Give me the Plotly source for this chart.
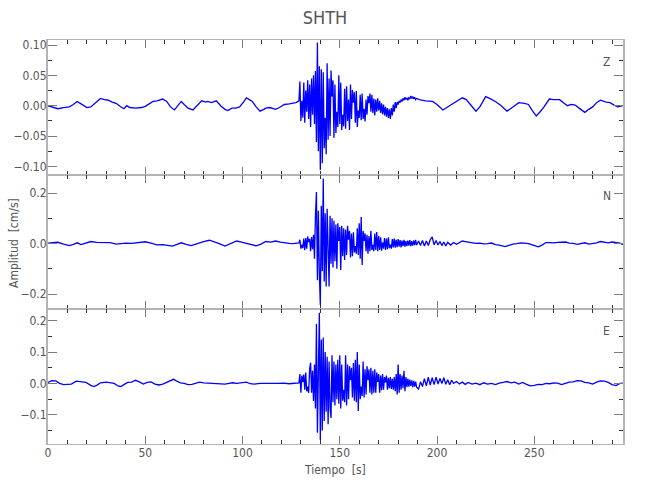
import numpy as np
import plotly.graph_objects as go
from plotly.subplots import make_subplots

# ---------------- data ----------------
components = ["Z", "N", "E"]
title = "SHTH"

burst_start = 129.5
burst_step = 0.5

# Z component
z_quiet_t = [0, 2, 5, 8, 11, 13, 15, 17, 20, 22, 24, 27, 29, 31, 33, 35, 37, 39, 40.5, 42, 45, 48, 50, 52, 54, 56, 59, 61, 63, 65,
             67, 68.5, 70, 72, 74.5, 76.5, 79, 81, 82, 84, 86.5, 89, 91, 92.5, 94.5, 96.5, 98.5, 100.5, 102, 103.5, 105, 107, 109,
             111, 112, 114, 117, 119, 121.5, 124, 126, 127.5, 129]
z_quiet_v = [0.000, -0.002, -0.005, -0.003, -0.002, 0.002, 0.007, 0.003, -0.003, -0.002, 0.004, 0.012, 0.010, 0.009, 0.006,
             0.004, -0.001, -0.005, 0.000, -0.003, -0.004, -0.003, -0.001, 0.003, 0.007, 0.008, 0.011, 0.007, -0.002, -0.007,
             0.001, 0.007, 0.002, -0.004, -0.007, 0.000, 0.008, 0.006, 0.007, 0.005, 0.008, -0.001, -0.006, -0.008, -0.004,
             -0.004, -0.002, 0.006, 0.013, 0.010, 0.007, -0.002, -0.009, -0.006, -0.004, -0.003, -0.006, -0.003, 0.002, 0.003,
             0.004, 0.005, 0.008]
z_burst_v = [0.040, -0.025, 0.008, -0.020, 0.038, -0.028, 0.025, -0.010, 0.042, -0.022,
             0.035, -0.035, 0.045, -0.015, 0.050, -0.030, 0.057, -0.060, 0.104, -0.075,
             0.065, -0.106, 0.060, -0.095, 0.055, -0.070, -0.020, -0.080, 0.070, -0.056,
             0.045, -0.050, 0.058, 0.015, 0.042, -0.053, 0.035, -0.045, -0.010, -0.035,
             0.050, -0.030, 0.038, -0.040, -0.015, -0.034, 0.028, -0.038, 0.032, -0.025,
             0.010, -0.040, 0.035, -0.022, 0.026, 0.005, 0.022, -0.028, 0.024, -0.035,
             -0.008, -0.020, 0.018, -0.024, 0.020, -0.022, -0.005, -0.026, 0.010, -0.015,
             0.016, 0.004, 0.020, -0.010, 0.018, -0.012, 0.012, -0.016, 0.010, -0.010,
             0.012, -0.008, 0.008, -0.012, 0.004, -0.014, 0.002, -0.016, -0.002, -0.018,
             -0.004, -0.020, -0.006, -0.022, -0.004, -0.016, 0.002, -0.010, 0.006, -0.004,
             0.006, 0.002, 0.008, 0.005, 0.010, 0.007, 0.012, 0.009, 0.014, 0.010,
             0.013, 0.009, 0.013, 0.011, 0.016, 0.012, 0.015, 0.011, 0.014, 0.010, 0.012]
z_tail_t = [191, 194, 197.7, 200, 203, 205, 208, 210, 213, 215, 217, 220, 222, 225, 227, 230, 233, 236, 239, 242, 245, 247,
            249, 251, 253, 255, 257.7, 260, 263, 265, 267, 269, 271, 273, 276, 278, 280, 282, 284, 287, 289, 291, 293, 295.5]
z_tail_v = [0.010, 0.008, 0.007, 0.002, -0.007, -0.003, 0.003, 0.006, 0.013, 0.010, 0.002, -0.009, -0.002, 0.015, 0.012, 0.007,
            0.000, -0.009, -0.002, 0.005, 0.004, 0.002, -0.008, -0.017, -0.010, -0.002, 0.011, 0.010, 0.010, 0.005, 0.000,
            0.002, 0.001, -0.004, -0.011, -0.006, -0.002, 0.005, 0.009, 0.006, 0.005, 0.001, -0.002, 0.000]

# N component
n_quiet_t = [0, 2, 5, 8, 11, 13, 15, 17, 19, 22, 25, 27, 30, 32, 35, 38, 40, 43, 46, 50, 53, 56, 59, 62, 64, 66, 68.5, 71,
             73.5, 76, 78, 80, 83, 85.5, 88, 91, 93, 95, 97, 99.5, 102, 104.5, 107, 109.5, 112, 114.5, 117, 119.5, 122, 124,
             126, 128, 129]
n_quiet_v = [0.002, 0.003, 0.005, -0.002, -0.008, -0.003, 0.003, -0.004, 0.000, 0.008, 0.005, 0.005, 0.006, 0.004, -0.002,
             0.002, 0.002, 0.001, 0.003, 0.007, 0.002, -0.005, -0.004, -0.006, -0.010, -0.004, 0.003, -0.003, -0.008, -0.002,
             0.004, 0.008, 0.013, 0.008, 0.000, -0.010, -0.004, 0.004, 0.010, 0.006, 0.000, -0.005, -0.009, -0.002, 0.008,
             0.006, 0.010, 0.006, 0.002, 0.001, 0.000, 0.000, 0.003]
n_burst_v = [0.015, -0.020, -0.005, -0.018, 0.020, -0.026, 0.022, -0.020, 0.028, 0.006,
             0.018, -0.030, 0.026, -0.022, 0.035, -0.060, 0.110, 0.204, -0.145, 0.130,
             -0.120, -0.243, 0.150, -0.110, 0.257, -0.150, 0.120, -0.170, 0.138, -0.100,
             -0.170, 0.110, -0.080, 0.100, -0.095, 0.090, -0.070, 0.075, -0.100, 0.080,
             0.010, 0.065, -0.105, 0.070, -0.050, 0.060, -0.065, 0.055, -0.045, 0.070,
             0.015, 0.050, -0.055, 0.040, -0.050, 0.045, -0.035, -0.010, -0.040, 0.060,
             -0.045, 0.080, -0.060, 0.105, -0.085, 0.050, 0.010, 0.040, -0.030, 0.035,
             -0.040, 0.030, -0.030, 0.050, -0.025, -0.005, -0.030, 0.040, -0.025, 0.046,
             -0.030, 0.030, -0.025, 0.025, -0.028, 0.005, -0.020, 0.022, -0.025, 0.020,
             -0.022, 0.025, -0.018, -0.004, -0.020, 0.018, -0.015, 0.020, -0.016, 0.015,
             -0.014, 0.018, -0.012, 0.014, -0.015, 0.012, -0.010, 0.015, -0.012, 0.010,
             -0.010, 0.012, -0.008, 0.014, -0.010, 0.010, -0.008, 0.012, -0.006, 0.015, -0.006]
n_tail_t = [190.5, 191.5, 192.5, 193.5, 194.5, 195.5, 196.5, 197.5, 198.5, 199.5, 200.5, 201.5, 202.5, 203.5, 204.5, 205.5,
            207, 208.5, 210, 211.5, 213, 214.5, 216, 218, 220, 222, 224, 226, 228, 230, 232, 235, 237, 239, 241, 243, 245,
            247, 249, 252, 254, 256, 258, 260, 262, 264, 266, 268, 270, 272, 274, 276, 278, 280, 282, 284, 286, 288, 290,
            292, 294, 295.5]
n_tail_v = [0.010, -0.008, 0.012, -0.010, 0.010, -0.008, 0.015, 0.026, -0.005, 0.012, -0.006, 0.008, -0.008, 0.006, -0.010,
            0.005, -0.006, 0.004, -0.003, 0.003, 0.010, 0.008, 0.006, 0.004, 0.001, 0.002, -0.001, 0.000, 0.002, -0.004,
            -0.006, -0.012, -0.006, -0.002, 0.000, 0.003, 0.002, 0.000, -0.005, -0.013, -0.006, 0.004, 0.004, 0.003, 0.005,
            0.004, 0.006, 0.002, 0.001, -0.003, 0.000, 0.003, -0.002, 0.000, 0.003, 0.008, 0.006, 0.003, 0.006, 0.005,
            0.002, -0.004]

# E component
e_quiet_t = [0, 2, 4, 6, 8, 10, 12, 14.5, 17, 19.5, 22, 23.5, 25, 27, 30, 32, 34, 36, 37.5, 39, 41, 43, 45, 47, 49, 51, 53,
             55, 57, 59, 61, 63, 64.5, 66, 68, 70, 72, 74, 76, 78, 80, 83, 86, 89, 91, 93, 95, 97, 100, 102, 104, 106, 109,
             112, 115, 118, 121, 124, 126, 128, 129]
e_quiet_v = [0.003, 0.009, 0.008, 0.000, -0.004, -0.004, -0.002, 0.007, 0.006, 0.003, -0.006, -0.010, -0.006, 0.002, 0.004,
             0.002, 0.000, -0.008, -0.010, -0.004, 0.003, 0.004, 0.010, 0.005, -0.002, 0.003, 0.005, -0.002, -0.005, -0.002,
             0.004, 0.010, 0.013, 0.008, 0.002, 0.000, -0.004, -0.003, 0.000, 0.004, 0.002, 0.001, -0.001, -0.003, -0.002,
             0.000, 0.002, 0.000, 0.001, 0.004, -0.001, -0.002, 0.000, -0.001, 0.000, 0.000, 0.001, -0.001, 0.000, 0.000,
             0.002]
e_burst_v = [0.030, -0.030, 0.025, 0.005, 0.028, -0.020, 0.035, -0.025, -0.010, -0.030,
             0.045, 0.066, -0.030, 0.040, -0.056, 0.060, -0.080, 0.190, -0.157, 0.120,
             0.225, -0.180, 0.140, -0.150, 0.146, -0.120, 0.100, -0.090, 0.085, -0.130,
             0.070, -0.080, -0.110, 0.090, -0.060, 0.070, -0.070, 0.060, -0.050, 0.075,
             -0.065, 0.090, -0.080, 0.060, -0.055, -0.020, -0.060, 0.090, -0.070, 0.060,
             -0.050, 0.055, 0.010, 0.050, -0.045, 0.065, -0.055, 0.075, -0.060, 0.100,
             -0.088, 0.060, -0.050, -0.010, -0.040, 0.070, -0.045, 0.045, -0.035, 0.055,
             0.010, 0.045, -0.030, 0.050, -0.035, 0.040, -0.030, 0.045, -0.030, 0.035,
             0.005, 0.030, -0.030, 0.025, -0.022, 0.030, -0.020, 0.020, 0.003, 0.025,
             -0.020, 0.018, -0.015, 0.020, -0.018, 0.015, -0.020, 0.020, -0.025, 0.030,
             -0.035, 0.060, -0.030, 0.030, -0.020, 0.025, -0.015, 0.040, -0.025, 0.020,
             -0.012, 0.015, -0.010, 0.012, -0.008, 0.010, -0.012, 0.008, -0.010, 0.006, -0.012]
e_tail_t = [190.5, 191.5, 192.5, 193.5, 194.5, 195.5, 196.5, 197.5, 198.5, 199.5, 200.5, 201.5, 202.5, 203.5, 204.5, 205.5,
            206.5, 207.5, 208.5, 210, 211.5, 213, 214.5, 216, 218, 220, 222, 224, 226, 228, 230, 232, 234, 236, 238, 240,
            242, 244, 246, 248, 250, 252, 254, 256, 258, 260, 262, 264, 266, 268, 270, 272, 274, 276, 278, 280, 282, 284,
            286, 288, 290, 292, 294, 295.5]
e_tail_v = [-0.018, 0.005, -0.010, 0.015, -0.008, 0.020, -0.005, 0.018, -0.004, 0.020, -0.002, 0.016, 0.000, 0.018, -0.003,
            0.012, -0.004, 0.010, 0.000, 0.006, -0.002, 0.004, -0.003, 0.003, -0.002, 0.001, -0.004, 0.002, -0.002, 0.000,
            -0.004, 0.001, 0.003, 0.006, 0.002, 0.004, -0.002, 0.003, -0.003, -0.008, -0.006, -0.003, -0.004, 0.000, -0.001,
            0.002, 0.001, -0.004, 0.000, 0.004, 0.005, 0.009, 0.008, 0.003, 0.002, -0.002, 0.004, 0.008, 0.007, 0.003,
            -0.004, -0.007, 0.000, 0.001]

y_ranges = [[-0.1137, 0.1083], [-0.2604, 0.2726], [-0.193, 0.236]]
y_dticks = [0.05, 0.2, 0.1]
y_formats = [".2f", ".1f", ".1f"]
x_range = [0, 295.6]


def assemble(qt, qv, bv, tt, tv):
    bt = list(burst_start + burst_step * np.arange(len(bv)))
    return qt + bt + tt, qv + bv + tv


series = [
    assemble(z_quiet_t, z_quiet_v, z_burst_v, z_tail_t, z_tail_v),
    assemble(n_quiet_t, n_quiet_v, n_burst_v, n_tail_t, n_tail_v),
    assemble(e_quiet_t, e_quiet_v, e_burst_v, e_tail_t, e_tail_v),
]

# ---------------- figure ----------------
FONT = "Liberation Sans Narrow, DejaVu Sans Condensed, Arial Narrow, sans-serif"
FRAME = "#b4b4b4"
TICK = "#7a7a7a"
TEXT = "#555555"

fig = make_subplots(rows=3, cols=1, shared_xaxes=True, vertical_spacing=0)

for i, (t, v) in enumerate(series):
    r = i + 1
    fig.add_trace(go.Scatter(x=t, y=v, mode="lines", line=dict(color="#0000ff", width=1.3),
                             showlegend=False, hoverinfo="skip"), row=r, col=1)
    fig.update_xaxes(range=x_range, dtick=50, tick0=0, ticks="inside", ticklen=8, tickwidth=1, tickcolor=TICK,
                     minor=dict(dtick=10, ticklen=4, tickcolor="#333333", ticks="inside"),
                     showline=True, linecolor=FRAME, linewidth=1, mirror="allticks",
                     showgrid=False, zeroline=False, showticklabels=(r == 3), ticklabelstandoff=-2,
                     tickfont=dict(family=FONT, size=12, color=TEXT), row=r, col=1)
    fig.update_yaxes(range=y_ranges[i], dtick=y_dticks[i], tick0=0, tickformat=y_formats[i],
                     ticks="inside", ticklen=9, tickwidth=1, tickcolor=TICK,
                     minor=dict(dtick=y_dticks[i] / 2, ticklen=4, tickcolor="#333333", ticks="inside"),
                     showline=True, linecolor=FRAME, linewidth=2, mirror="allticks",
                     showgrid=False, zeroline=False, ticklabelstandoff=-3,
                     tickfont=dict(family=FONT, size=12, color=TEXT), row=r, col=1)

label_y = [0.945, 0.614, 0.279]
annotations = []
for lab, yy in zip(components, label_y):
    annotations.append(dict(text=lab, x=0.972, y=yy, xref="paper", yref="paper", showarrow=False,
                            xanchor="center", yanchor="middle",
                            font=dict(family=FONT, size=12, color=TEXT)))
annotations.append(dict(text="Amplitud  [cm/s]", x=-0.059, y=0.498, xref="paper", yref="paper", showarrow=False,
                        xanchor="center", yanchor="middle",
                        textangle=-90, font=dict(family=FONT, size=12, color=TEXT)))
annotations.append(dict(text="Tiempo  [s]", x=0.499, y=-0.064, xref="paper", yref="paper", showarrow=False,
                        xanchor="center", yanchor="middle",
                        font=dict(family=FONT, size=12, color=TEXT)))

fig.update_layout(
    width=650, height=500,
    margin=dict(l=48, r=27, t=40, b=56),
    paper_bgcolor="white", plot_bgcolor="white",
    title=dict(text=title, x=0.5, xanchor="center", y=0.964, yanchor="middle",
               font=dict(family=FONT, size=18, color=TEXT)),
    annotations=annotations,
)

fig.write_html("out.html", config={"displayModeBar": False},
               post_script="document.body.style.margin='0px';")
